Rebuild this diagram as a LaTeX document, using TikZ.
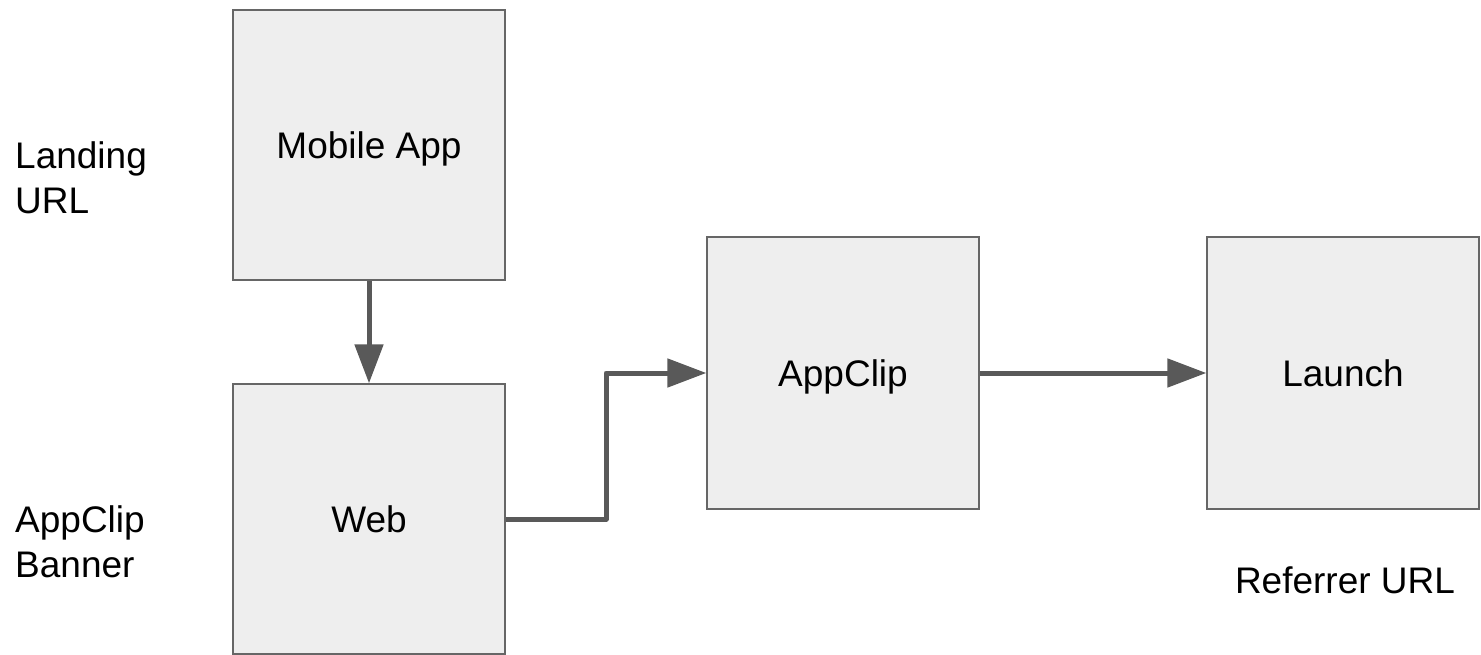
\documentclass[tikz,border=0pt]{standalone}
\usepackage{fontspec}
\setmainfont{Liberation Sans}
\usetikzlibrary{arrows.meta,calc}
\definecolor{boxfill}{HTML}{EEEEEE}
\definecolor{boxline}{HTML}{666666}
\definecolor{arrowcol}{HTML}{595959}
\tikzset{
  block/.style={draw=boxline, fill=boxfill, line width=1.3pt, minimum width=272pt, minimum height=272pt, inner sep=0pt, text height=26.5pt, text depth=0pt, font=\fontsize{37}{45}\selectfont},
  sidelabel/.style={anchor=north west, inner sep=0pt, align=left, font=\fontsize{37}{45}\selectfont},
  flow/.style={draw=arrowcol, line width=5pt, line join=round, -{Triangle[length=39pt,width=28pt]}}
}
\begin{document}
\begin{tikzpicture}[x=1pt,y=-1pt]
\useasboundingbox (0,0) rectangle (1481,655);
\node[block, minimum height=270pt] (mobile) at (369,145) {Mobile App};
\node[block, minimum height=270pt] (web) at (369,519) {Web};
\node[block] (appclip) at (843,373) {AppClip};
\node[block] (launch) at (1343,373) {Launch};
\node[sidelabel] (landing) at (15,141) {Landing\\URL};
\node[sidelabel] (banner) at (15,505) {AppClip\\Banner};
\node[anchor=base, inner sep=0pt, font=\fontsize{37}{45}\selectfont] (referrer) at (1345,593) {Referrer URL};
\draw[flow] (mobile.south) -- (web.north);
\draw[flow] (web.east) -| ($(web.east)!.5!(appclip.west)$) |- (appclip.west);
\draw[flow] (appclip.east) -- (launch.west);
\end{tikzpicture}
\end{document}
